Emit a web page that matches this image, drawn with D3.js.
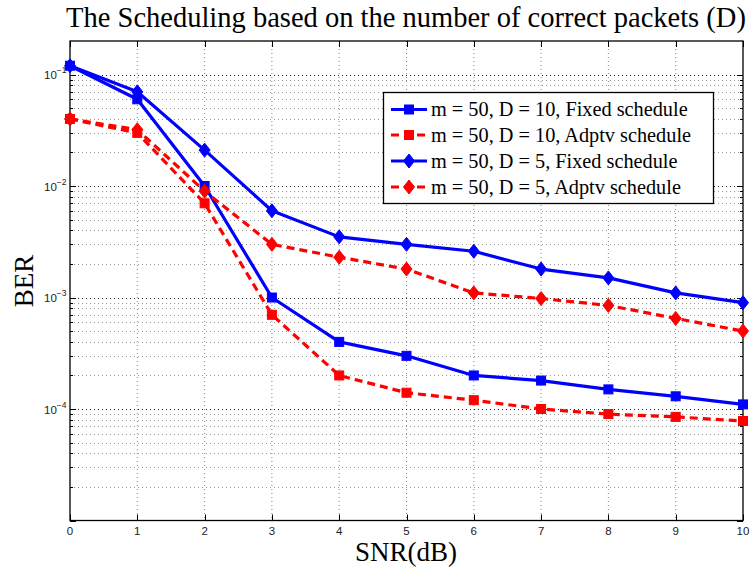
<!DOCTYPE html>
<html>
<head>
<meta charset="utf-8">
<script src="https://cdn.jsdelivr.net/npm/d3@7"></script>
<style>
  html, body { margin: 0; padding: 0; background: #fff; }
  svg { display: block; }
</style>
</head>
<body>
<svg id="chart" width="752" height="568"></svg>
<script>
// SNR points (dB)
const snr = [0, 1, 2, 3, 4, 5, 6, 7, 8, 9, 10];

// BER per scheduling scheme
const berD10Fixed = [0.12, 0.06, 0.01, 0.001, 4e-4, 3e-4, 2e-4, 1.8e-4, 1.5e-4, 1.3e-4, 1.1e-4];
const berD10Adptv = [0.04, 0.03, 0.007, 7e-4, 2e-4, 1.4e-4, 1.2e-4, 1e-4, 9e-5, 8.5e-5, 7.8e-5];
const berD5Fixed  = [0.12, 0.07, 0.021, 0.006, 3.5e-3, 3e-3, 2.6e-3, 1.8e-3, 1.5e-3, 1.1e-3, 9e-4];
const berD5Adptv  = [0.04, 0.032, 0.009, 3e-3, 2.3e-3, 1.8e-3, 1.1e-3, 9.8e-4, 8.5e-4, 6.5e-4, 5e-4];

const seriesNames = [
  "m = 50, D = 10, Fixed schedule",
  "m = 50, D = 10, Adptv schedule",
  "m = 50, D = 5, Fixed schedule",
  "m = 50, D = 5, Adptv schedule"
];

const xTicks = [0, 1, 2, 3, 4, 5, 6, 7, 8, 9, 10];
const yMajorExps = [-5, -4, -3, -2, -1];
const yLabelExps = [-4, -3, -2, -1];

const series = [
  { name: seriesNames[0], values: berD10Fixed, color: "#0000ff", dash: null, marker: "square" },
  { name: seriesNames[1], values: berD10Adptv, color: "#ff0000", dash: "8,5", marker: "square" },
  { name: seriesNames[2], values: berD5Fixed,  color: "#0000ff", dash: null, marker: "diamond" },
  { name: seriesNames[3], values: berD5Adptv,  color: "#ff0000", dash: "8,5", marker: "diamond" }
];

const svg = d3.select("#chart");
const L = 70, R = 743, T = 41, B = 520.5;

const x = d3.scaleLinear().domain([0, 10]).range([L, R]);
const y = d3.scaleLog().domain([1e-5, 0.2]).range([B, T]);

const serif = "Liberation Serif";
const sans = "Liberation Sans";

// minor & major y values
const yMinor = [];
yMajorExps.forEach(e => {
  for (let m = 2; m <= 9; m++) {
    const v = m * Math.pow(10, e);
    if (v < 0.2 - 1e-12) yMinor.push(v);
  }
});
const yMajor = yMajorExps.map(e => Math.pow(10, e));

const grid = svg.append("g");
// vertical grid
grid.selectAll("line.vx").data(xTicks.slice(1, -1)).join("line")
  .attr("x1", d => x(d)).attr("x2", d => x(d))
  .attr("y1", T).attr("y2", B)
  .attr("stroke", "#888").attr("stroke-width", 1).attr("stroke-dasharray", "1,3");
// horizontal minor grid
grid.selectAll("line.hm").data(yMinor).join("line")
  .attr("x1", L).attr("x2", R)
  .attr("y1", d => Math.round(y(d)) + 0.5).attr("y2", d => Math.round(y(d)) + 0.5)
  .attr("stroke", "#999").attr("stroke-width", 1).attr("stroke-dasharray", "1,3");
// horizontal major grid
grid.selectAll("line.hM").data(yMajor.slice(1)).join("line")
  .attr("x1", L).attr("x2", R)
  .attr("y1", d => Math.round(y(d)) + 0.5).attr("y2", d => Math.round(y(d)) + 0.5)
  .attr("stroke", "#222").attr("stroke-width", 1).attr("stroke-dasharray", "1,3");

// ticks (inward on all sides)
const ticks = svg.append("g").attr("stroke", "#000").attr("stroke-width", 1);
xTicks.forEach(t => {
  const px = Math.round(x(t)) + 0.5;
  ticks.append("line").attr("x1", px).attr("x2", px).attr("y1", B).attr("y2", B - 6);
  ticks.append("line").attr("x1", px).attr("x2", px).attr("y1", T).attr("y2", T + 6);
});
yMajor.forEach(v => {
  const py = Math.round(y(v)) + 0.5;
  ticks.append("line").attr("x1", L).attr("x2", L + 6).attr("y1", py).attr("y2", py);
  ticks.append("line").attr("x1", R).attr("x2", R - 6).attr("y1", py).attr("y2", py);
});
yMinor.forEach(v => {
  const py = Math.round(y(v)) + 0.5;
  ticks.append("line").attr("x1", L).attr("x2", L + 3).attr("y1", py).attr("y2", py);
  ticks.append("line").attr("x1", R).attr("x2", R - 3).attr("y1", py).attr("y2", py);
});

// axes box
svg.append("rect").attr("x", L).attr("y", T).attr("width", R - L).attr("height", B - T)
  .attr("fill", "none").attr("stroke", "#000").attr("stroke-width", 1.3);

// x tick labels
svg.append("g").selectAll("text").data(xTicks).join("text")
  .attr("x", d => x(d)).attr("y", 535)
  .attr("text-anchor", "middle")
  .attr("font-family", sans).attr("font-size", 11.5).attr("fill", "#222")
  .text(d => d);

// y tick labels 10^e
const yl = svg.append("g").selectAll("text").data(yLabelExps).join("text")
  .attr("x", 44).attr("y", d => y(Math.pow(10, d)) + 4.5)
  .attr("font-family", sans).attr("font-size", 11.5).attr("fill", "#222");
yl.append("tspan").text("10");
yl.append("tspan").attr("dy", -6).attr("font-size", 8.5).text(d => "\u2212" + (-d));

// lines and markers
const line = d3.line().x((d, i) => x(snr[i])).y(d => y(d));

function drawMarker(g, kind, color, cx, cy) {
  if (kind === "square") {
    g.append("rect").attr("x", cx - 4.5).attr("y", cy - 4.5).attr("width", 9).attr("height", 9)
      .attr("fill", color).attr("stroke", color).attr("stroke-width", 1);
  } else {
    g.append("path")
      .attr("d", `M${cx},${cy - 7}L${cx + 5.5},${cy}L${cx},${cy + 7}L${cx - 5.5},${cy}Z`)
      .attr("fill", color).attr("stroke", color).attr("stroke-width", 1);
  }
}

const plot = svg.append("g");
series.forEach(s => {
  plot.append("path").datum(s.values)
    .attr("d", line)
    .attr("fill", "none").attr("stroke", s.color).attr("stroke-width", 3.2)
    .attr("stroke-linejoin", "round")
    .attr("stroke-dasharray", s.dash);
});
series.forEach(s => {
  const g = plot.append("g");
  s.values.forEach((v, i) => drawMarker(g, s.marker, s.color, x(snr[i]), y(v)));
});

// legend
const lg = svg.append("g");
lg.append("rect").attr("x", 383.5).attr("y", 92.5).attr("width", 330).attr("height", 111)
  .attr("fill", "#fff").attr("stroke", "#000").attr("stroke-width", 1.3);
const rowY = [109.5, 135, 161, 187];
series.forEach((s, i) => {
  const ry = rowY[i];
  lg.append("line").attr("x1", 391).attr("x2", 427).attr("y1", ry).attr("y2", ry)
    .attr("stroke", s.color).attr("stroke-width", 3.2).attr("stroke-dasharray", s.dash);
  drawMarker(lg, s.marker, s.color, 409, ry);
  lg.append("text").attr("x", 431).attr("y", ry + 6.5)
    .attr("font-family", serif).attr("font-size", 20.3).attr("fill", "#000")
    .text(s.name);
});

// title and axis labels
svg.append("text").attr("x", 406).attr("y", 27).attr("text-anchor", "middle")
  .attr("font-family", serif).attr("font-size", 28.5).attr("fill", "#000")
  .text("The Scheduling based on the number of correct packets (D)");
svg.append("text").attr("x", 406).attr("y", 561).attr("text-anchor", "middle")
  .attr("font-family", serif).attr("font-size", 27).attr("fill", "#000")
  .text("SNR(dB)");
svg.append("text").attr("transform", "translate(33,281) rotate(-90)").attr("text-anchor", "middle")
  .attr("font-family", serif).attr("font-size", 27).attr("fill", "#000")
  .text("BER");
</script>
</body>
</html>
